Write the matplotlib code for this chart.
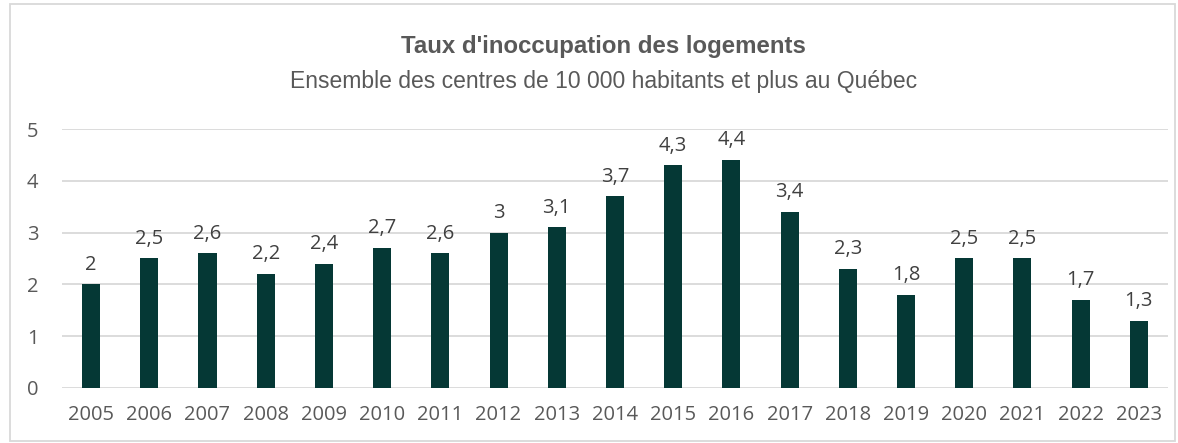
import matplotlib.pyplot as plt
from matplotlib.patches import Rectangle

years = ['2005', '2006', '2007', '2008', '2009', '2010', '2011', '2012', '2013', '2014',
         '2015', '2016', '2017', '2018', '2019', '2020', '2021', '2022', '2023']
taux = [2, 2.5, 2.6, 2.2, 2.4, 2.7, 2.6, 3, 3.1, 3.7, 4.3, 4.4, 3.4, 2.3, 1.8, 2.5, 2.5, 1.7, 1.3]

gray = '#595959'
fig = plt.figure(figsize=(11.78, 4.43), dpi=100)
ax = fig.add_axes([0.0526, 0.1242, 0.9389, 0.5846])

x = range(len(years))
bars = ax.bar(x, taux, width=0.31, color='#053835', zorder=3)
labels = [f'{v:g}'.replace('.', ',') for v in taux]
ax.bar_label(bars, labels=labels, padding=7, fontsize=14.5, color='#404040', family='Open Sans')

ax.set_xlim(-0.5, len(years) - 0.5)
ax.set_ylim(0, 5)
ax.set_yticks(range(6))
ax.set_xticks(list(x))
ax.set_xticklabels(years)
ax.grid(axis='y', color='#d9d9d9', linewidth=1.3, zorder=0)
for s in ax.spines.values():
    s.set_visible(False)
ax.tick_params(length=0, labelsize=14.5, colors=gray, pad=12)
ax.tick_params(axis='y', pad=17)
for t in ax.get_xticklabels() + ax.get_yticklabels():
    t.set_family('Open Sans')

fig.text(0.512, 0.895, "Taux d'inoccupation des logements", ha='center', va='center',
         fontsize=17.3, fontweight='bold', color=gray, family='Liberation Sans')
fig.text(0.512, 0.815, "Ensemble des centres de 10 000 habitants et plus au Québec", ha='center', va='center',
         fontsize=16.5, color=gray, family='Liberation Sans')

fig.patches.append(Rectangle((10 / 1178, 2 / 443), 1165 / 1178, 437 / 443, transform=fig.transFigure,
                             fill=False, edgecolor='#d9d9d9', linewidth=1.3))

fig.savefig('out.png', dpi=100)
